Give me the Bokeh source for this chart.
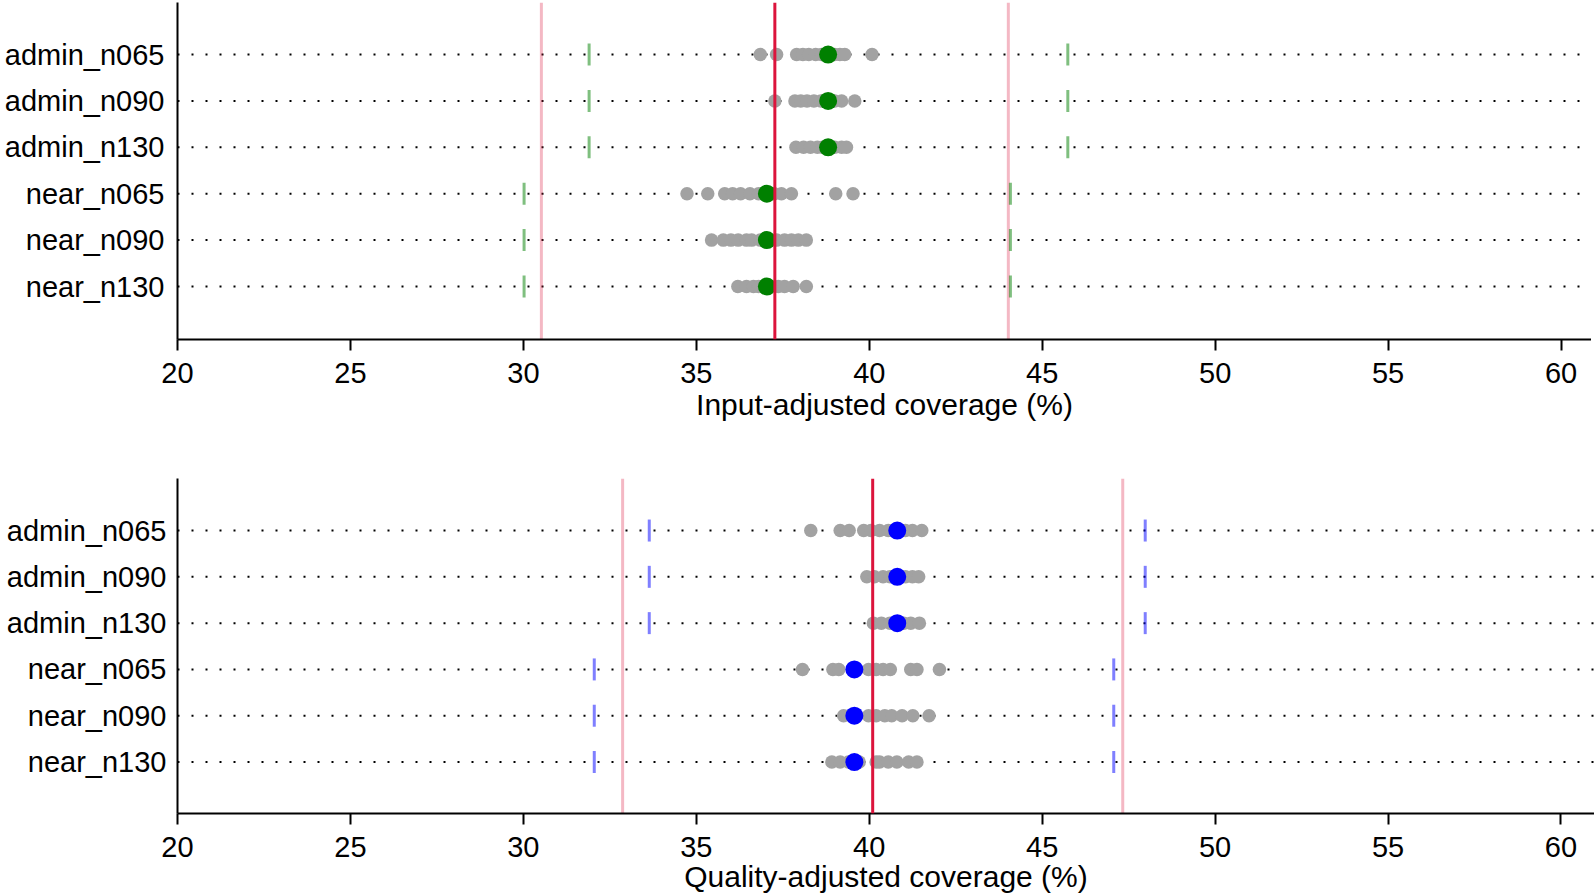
import numpy as np
from bokeh.plotting import figure
from bokeh.layouts import column
from bokeh.models import FixedTicker, Range1d, Span
from bokeh.embed import file_html
from bokeh.resources import INLINE

FONT = "Liberation Sans"

categories = ["admin_n065", "admin_n090", "admin_n130", "near_n065", "near_n090", "near_n130"]
x_ticks = [20, 25, 30, 35, 40, 45, 50, 55, 60]

# ---- Input-adjusted coverage (%) ----
input_admin_n065 = [36.85, 37.32, 37.90, 38.08, 38.25, 38.45, 38.62, 39.0, 39.15, 39.29, 40.08]
input_admin_n090 = [37.27, 37.85, 38.02, 38.2, 38.4, 38.6, 39.0, 39.2, 39.58]
input_admin_n130 = [37.88, 38.1, 38.3, 38.5, 38.65, 39.0, 39.2, 39.34]
input_near_n065 = [34.73, 35.33, 35.82, 36.05, 36.28, 36.55, 36.8, 37.25, 37.46, 37.75, 39.03, 39.53]
input_near_n090 = [35.44, 35.78, 36.0, 36.21, 36.45, 36.6, 36.85, 37.32, 37.55, 37.75, 37.95, 38.18]
input_near_n130 = [36.2, 36.45, 36.65, 36.8, 37.37, 37.55, 37.8, 38.18]
input_means = [38.81, 38.81, 38.81, 37.04, 37.04, 37.04]
input_lower = [31.90, 31.90, 31.90, 30.02, 30.02, 30.02]
input_upper = [45.74, 45.74, 45.74, 44.08, 44.08, 44.08]
input_overall = 37.27
input_band = [30.52, 44.02]

# ---- Quality-adjusted coverage (%) ----
quality_admin_n065 = [38.31, 39.16, 39.42, 39.84, 40.05, 40.3, 40.55, 41.05, 41.25, 41.52]
quality_admin_n090 = [39.93, 40.15, 40.4, 40.6, 41.05, 41.25, 41.43]
quality_admin_n130 = [40.12, 40.35, 40.6, 41.0, 41.2, 41.45]
quality_near_n065 = [38.07, 38.95, 39.12, 39.98, 40.2, 40.4, 40.61, 41.2, 41.38, 42.03]
quality_near_n090 = [39.26, 39.98, 40.2, 40.45, 40.65, 40.95, 41.26, 41.73]
quality_near_n130 = [38.92, 39.16, 39.4, 39.71, 40.2, 40.3, 40.55, 40.8, 41.14, 41.38]
quality_means = [40.81, 40.81, 40.81, 39.57, 39.57, 39.57]
quality_lower = [33.64, 33.64, 33.64, 32.05, 32.05, 32.05]
quality_upper = [47.98, 47.98, 47.98, 47.07, 47.07, 47.07]
quality_overall = 40.10
quality_band = [32.87, 47.33]


def make_panel(runs, means, lower, upper, overall, band, color, xlabel,
               width, height, left, top, bottom, ylim, xend, title_standoff,
               label_standoff):
    n = len(categories)
    ypos = [n - i for i in range(n)]
    p = figure(width=width, height=height, x_range=Range1d(20, xend),
               y_range=Range1d(*ylim), output_backend="svg",
               toolbar_location=None, min_border_left=left, min_border_right=0,
               min_border_top=top, min_border_bottom=bottom)
    p.xgrid.visible = False
    p.ygrid.visible = False
    p.outline_line_color = None
    p.background_fill_color = "white"
    p.border_fill_color = "white"

    for y in ypos:
        p.add_layout(Span(location=y, dimension="width", line_color="black",
                          line_width=2, line_dash="2 12", level="underlay"))
    for b in band:
        p.add_layout(Span(location=b, dimension="height", line_color="crimson",
                          line_alpha=0.3, line_width=3, level="underlay"))

    xs, ys = [], []
    for y, vals in zip(ypos, runs):
        xs += vals
        ys += [y] * len(vals)
    p.scatter(xs, ys, size=13.5, fill_color="#a2a2a2", line_color=None)

    p.scatter(lower, ypos, marker="dash", angle=np.pi / 2, size=22,
              line_width=3, line_color=color, line_alpha=0.5)
    p.scatter(upper, ypos, marker="dash", angle=np.pi / 2, size=22,
              line_width=3, line_color=color, line_alpha=0.5)

    p.add_layout(Span(location=overall, dimension="height",
                      line_color="crimson", line_width=3))

    p.scatter(means, ypos, size=18, fill_color=color, line_color=None)

    xa = p.xaxis[0]
    xa.ticker = FixedTicker(ticks=x_ticks)
    xa.axis_label = xlabel
    xa.axis_label_text_font = FONT
    xa.axis_label_text_font_style = "normal"
    xa.axis_label_text_font_size = "30px"
    xa.axis_label_text_color = "black"
    xa.axis_label_standoff = title_standoff
    xa.major_label_text_font = FONT
    xa.major_label_text_font_size = "29px"
    xa.major_label_text_color = "black"
    xa.major_label_standoff = 12
    xa.major_tick_out = 11
    xa.major_tick_in = 0
    xa.minor_tick_out = 0
    xa.minor_tick_in = 0
    xa.axis_line_width = 2
    xa.major_tick_line_width = 2
    xa.axis_line_color = "black"
    xa.major_tick_line_color = "black"

    ya = p.yaxis[0]
    ya.ticker = FixedTicker(ticks=ypos)
    ya.major_label_overrides = {y: c for y, c in zip(ypos, categories)}
    ya.major_label_text_font = FONT
    ya.major_label_text_font_size = "29px"
    ya.major_label_text_color = "black"
    ya.major_label_standoff = label_standoff
    ya.major_tick_out = 0
    ya.major_tick_in = 0
    ya.minor_tick_out = 0
    ya.minor_tick_in = 0
    ya.axis_line_width = 2
    ya.axis_line_color = "black"
    return p


input_runs = [input_admin_n065, input_admin_n090, input_admin_n130,
              input_near_n065, input_near_n090, input_near_n130]
quality_runs = [quality_admin_n065, quality_admin_n090, quality_admin_n130,
                quality_near_n065, quality_near_n090, quality_near_n130]

p1 = make_panel(input_runs, input_means, input_lower, input_upper, input_overall,
                input_band, "green", "Input-adjusted coverage (%)",
                width=1591, height=448, left=177, top=2, bottom=109,
                ylim=(-0.142, 7.121), xend=60.88, title_standoff=2,
                label_standoff=13)
p2 = make_panel(quality_runs, quality_means, quality_lower, quality_upper,
                quality_overall, quality_band, "blue", "Quality-adjusted coverage (%)",
                width=1594, height=447, left=177, top=30, bottom=82,
                ylim=(-0.112, 7.124), xend=60.97, title_standoff=0,
                label_standoff=11)

layout = column(p1, p2, spacing=0)
open("out.html", "w").write(file_html(layout, INLINE))
